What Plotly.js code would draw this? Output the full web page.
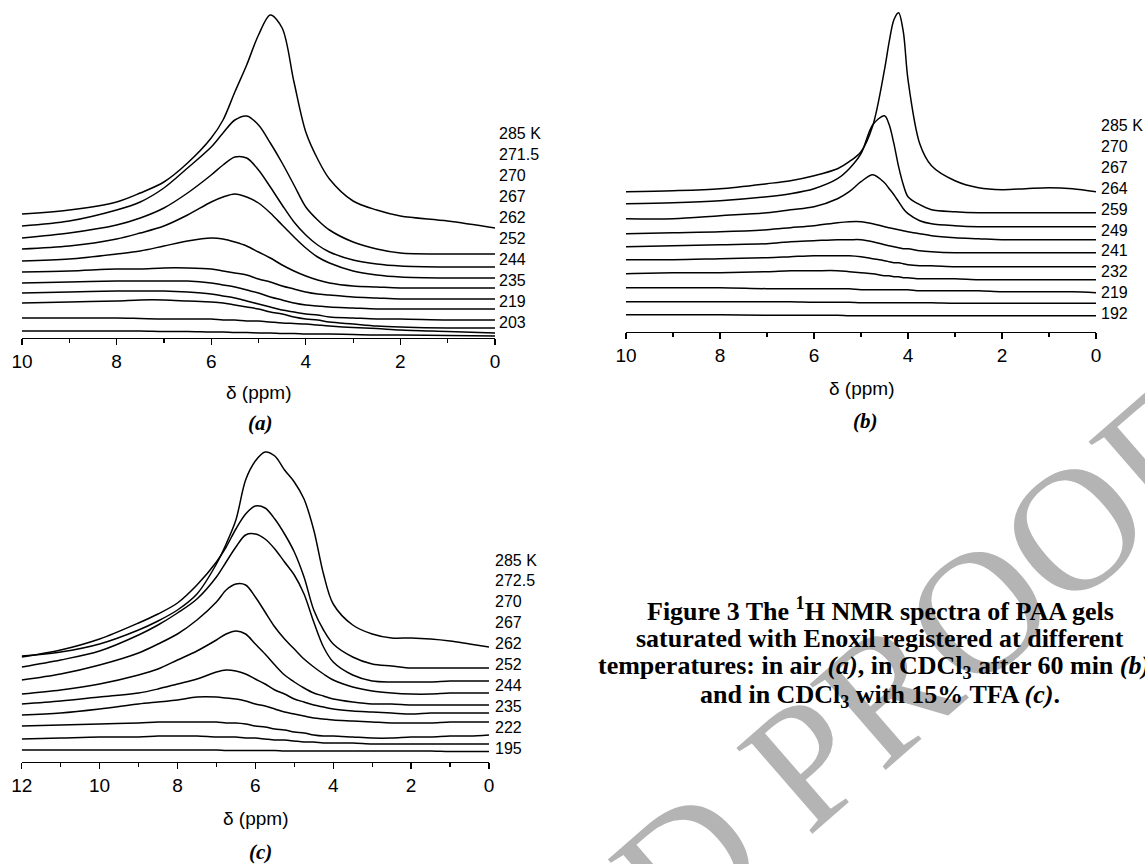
<!DOCTYPE html>
<html>
<head>
<meta charset="utf-8">
<script src="https://cdn.plot.ly/plotly-3.0.1.min.js"></script>
<style>
  html, body { margin: 0; padding: 0; background: #fff; }
  #chart { width: 1145px; height: 864px; }
</style>
</head>
<body>
<div id="chart"></div>
<script>
// ---------- DATA (intensity in arbitrary stacked units) ----------
// Panel (a): in air
const ppmA = [10, 9, 8, 7.5, 7, 6.5, 6, 5.75, 5.5, 5.25, 5, 4.75, 4.5, 4.25, 4, 3.75, 3.5, 3, 2.5, 2, 1, 0];
const tempsA = ["285 K", "271.5", "270", "267", "262", "252", "244", "235", "219", "203"];
const spectraA = [
  [124, 128, 136, 145, 156, 175, 200, 218, 246, 273, 303, 323, 310, 256, 206, 179, 159, 137, 128, 122, 117, 110],
  [112, 117, 128, 136, 150, 170, 191, 205, 218, 222, 213, 195, 175, 153, 131, 118, 108, 96, 89, 85, 84, 84],
  [100, 105, 113, 120, 130, 145, 163, 173, 181, 180, 168, 151, 133, 116, 103, 93, 86, 78, 74, 72, 71, 71],
  [89, 92, 99, 105, 112, 123, 136, 141, 144, 141, 135, 125, 113, 101, 90, 81, 75, 67, 63, 61, 60, 60],
  [77, 79, 84, 87, 92, 97, 100, 99, 96, 92, 86, 80, 73, 67, 62, 58, 55, 52, 51, 50, 50, 50],
  [66, 67, 69, 69, 70, 70, 69, 67, 65, 63, 59, 56, 52, 49, 46, 44, 43, 41, 40, 39, 39, 39],
  [55, 56, 57, 57, 57, 57, 55, 53, 51, 48, 45, 41, 38, 35, 33, 32, 31, 30, 29, 29, 29, 29],
  [45, 46, 47, 47, 47, 46, 44, 42, 40, 37, 34, 31, 28, 26, 24, 23, 21, 20, 19, 19, 18, 18],
  [35, 36, 37, 38, 38, 37, 36, 35, 33, 31, 29, 26, 24, 21, 19, 18, 16, 14, 12, 11, 10, 10],
  [20, 20, 20, 19.5, 19, 19, 19, 18, 18, 17, 17, 16, 15, 14.5, 14, 13, 12, 10.5, 9.5, 8, 6.5, 5],
  [7, 7, 7, 7, 6.5, 6.5, 6, 6, 5.5, 5.5, 5, 5, 4.5, 4.5, 4, 4, 4, 3.5, 3, 3, 2.5, 2]
];

// Panel (b): in CDCl3 after 60 min
const ppmB = [10, 9, 8, 7, 6.5, 6, 5.5, 5.25, 5, 4.75, 4.5, 4.4, 4.3, 4.2, 4.1, 4, 3.75, 3.5, 3, 2.5, 2, 1.5, 1, 0.5, 0];
const tempsB = ["285 K", "270", "267", "264", "259", "249", "241", "232", "219", "192"];
const spectraB = [
  [140, 141, 143, 148, 151, 156, 163, 170, 180, 206, 262, 290, 312, 319, 300, 252, 188, 166, 151, 144, 142, 143, 144, 143, 140],
  [128, 129, 131, 135, 138, 143, 153, 163, 178, 207, 216, 207, 188, 165, 147, 135, 127, 122, 120, 119, 119, 119, 119, 119, 119],
  [113, 113, 116, 119, 122, 125, 133, 140, 150, 157, 149, 143, 137, 130, 123, 118, 111, 108, 106, 105, 105, 105, 105, 105, 105],
  [98, 99, 100, 102, 104, 106, 109, 110, 110, 108, 105, 104, 103, 102, 101, 100, 98, 96, 94, 93, 92, 92, 92, 92, 92],
  [85, 86, 87, 88, 90, 91, 92, 92, 92, 90, 87, 86, 85, 84, 83, 83, 81, 80, 79, 79, 79, 79, 79, 79, 79],
  [72, 72, 73, 74, 75, 76, 76, 76, 75, 73, 71, 70, 69, 69, 68, 67, 66, 66, 65, 65, 65, 65, 65, 65, 65],
  [58, 59, 59, 60, 61, 61, 61, 60, 59, 58, 56, 56, 55, 55, 54, 54, 53, 53, 53, 52, 52, 52, 52, 52, 52],
  [44, 44, 44, 43, 43, 43, 43, 43, 42, 42, 42, 42, 42, 42, 42, 42, 41, 41, 41, 41, 40, 40, 40, 40, 39],
  [30, 30, 30, 30, 30, 29.5, 29.5, 29.5, 29, 29, 29, 29, 29, 29, 29, 29, 29, 29, 28.5, 28.5, 28.5, 28.5, 28.5, 28.5, 28.5],
  [17, 17, 17, 16.5, 16.5, 16.5, 16.5, 16, 16, 16, 16, 16, 16, 16, 16, 16, 16, 16, 16, 16, 16, 16, 16, 16, 16]
];

// Panel (c): in CDCl3 with 15% TFA
const ppmC = [12, 11, 10, 9, 8.5, 8, 7.5, 7, 6.75, 6.5, 6.25, 6, 5.75, 5.5, 5.25, 5, 4.75, 4.5, 4.25, 4, 3.5, 3, 2.5, 2, 1.5, 1, 0.5, 0];
const tempsC = ["285 K", "272.5", "270", "267", "262", "252", "244", "235", "222", "195"];
const spectraC = [
  [106, 110, 118, 132, 141, 152, 168, 198, 218, 242, 282, 301, 310, 306, 292, 280, 263, 232, 188, 158, 137, 128, 124, 124, 123, 121, 118, 115],
  [105, 112, 123, 139, 148, 159, 177, 200, 215, 233, 248, 256, 254, 243, 228, 210, 185, 152, 132, 118, 105, 98, 96, 94, 94, 94, 94, 94],
  [95, 102, 111, 127, 137, 149, 163, 185, 200, 215, 227, 228, 223, 213, 200, 187, 168, 140, 115, 100, 87, 81, 80, 80, 80, 81, 81, 81],
  [82, 88, 97, 109, 118, 128, 142, 160, 172, 178, 177, 165, 150, 135, 123, 113, 103, 95, 88, 82, 75, 71, 69, 68, 68, 69, 69, 69],
  [68, 72, 78, 87, 93, 102, 111, 122, 128, 131, 128, 118, 108, 97, 87, 80, 74, 69, 66, 63, 60, 58, 58, 57, 57, 57, 57, 57],
  [58, 61, 65, 69, 73, 78, 83, 90, 92, 91, 88, 83, 78, 72, 68, 63, 60, 57, 55, 53, 51, 50, 49, 48, 49, 49, 49, 49],
  [47, 49, 53, 58, 60, 62, 65, 65, 64, 63, 61, 58, 56, 53, 50, 48, 46, 44, 43, 42, 41, 40, 39, 39, 39, 40, 40, 40],
  [36, 37, 38, 39, 40, 40, 40, 40, 39, 39, 38, 36, 35, 33, 32, 30, 29, 27, 26, 26, 25, 24, 24, 25, 25, 26, 26, 27],
  [23, 24, 25, 25, 26, 26, 26, 25, 25, 25, 24, 24, 23, 22, 22, 21, 20, 20, 19, 19, 19, 18, 18, 18, 18, 18, 18, 18],
  [12, 12, 12, 12, 12, 12, 12, 12, 11.5, 11.5, 11.5, 11.5, 11.5, 11.5, 11, 11, 11, 11, 11, 11, 11, 11, 11, 11, 11, 10.5, 10.5, 10.5]
];

const captionLines = [
  "<b>Figure 3 The <sup>1</sup>H NMR spectra of PAA gels</b>",
  "<b>saturated with Enoxil registered at different</b>",
  "<b>temperatures: in air <i>(a)</i>, in CDCl<sub>3</sub> after 60 min <i>(b)</i>,</b>",
  "<b>and in CDCl<sub>3</sub> with 15% TFA <i>(c)</i>.</b>"
];
const axisTitle = "δ (ppm)";
const panelTags = ["(a)", "(b)", "(c)"];
const watermark = "UNCORRECTED PROOF";

// ---------- LAYOUT HELPERS ----------
const W = 1145, H = 864;
const px = v => v / W;
const py = v => 1 - v / H;
const SANS = "Liberation Sans, Arial, Helvetica, sans-serif";
const SERIF = "Liberation Serif, Times New Roman, serif";

const panels = [
  { ppm: ppmA, spectra: spectraA, temps: tempsA, xa: "x",  ya: "y",  x0: 22,  x1: 495,  axisY: 338,   labelX: 497,  labelY0: 134,   titleY: 392, tagX: 260, tagY: 423 },
  { ppm: ppmB, spectra: spectraB, temps: tempsB, xa: "x2", ya: "y2", x0: 626, x1: 1096, axisY: 331.7, labelX: 1099, labelY0: 125.5, titleY: 388, tagX: 865, tagY: 421 },
  { ppm: ppmC, spectra: spectraC, temps: tempsC, xa: "x3", ya: "y3", x0: 21.7, x1: 489, axisY: 762,  labelX: 493,  labelY0: 560,   titleY: 818, tagX: 260, tagY: 852 }
];
const labelStep = 20.9;
const yspan = 330;

const traces = [];
panels.forEach(p => {
  p.spectra.forEach(s => {
    traces.push({
      type: "scatter", mode: "lines",
      x: p.ppm, y: s,
      xaxis: p.xa, yaxis: p.ya,
      line: { color: "#000", width: 1.5, shape: "spline", smoothing: 0.9 },
      hoverinfo: "skip", showlegend: false
    });
  });
});

function xAxis(p, range, yname) {
  return {
    domain: [px(p.x0), px(p.x1)],
    anchor: yname,
    range: range,
    showgrid: false, zeroline: false,
    showline: true, linecolor: "#000", linewidth: 1.3,
    ticks: "outside", ticklen: 6, tickwidth: 1.3, tickcolor: "#000",
    tick0: 0, dtick: 2,
    minor: { ticks: "outside", ticklen: 3.5, tickwidth: 1.2, tickcolor: "#000", dtick: 1, showgrid: false },
    tickfont: { family: SANS, size: 19, color: "#000" },
    fixedrange: true
  };
}
function yAxis(p) {
  return {
    domain: [py(p.axisY), py(p.axisY - yspan)],
    range: [0, yspan],
    visible: false, fixedrange: true
  };
}

const annotations = [];
// watermark first (underneath everything else)
annotations.push({
  xref: "paper", yref: "paper", x: px(477), y: py(1047),
  xanchor: "center", yanchor: "middle",
  text: watermark, showarrow: false, textangle: -41,
  font: { family: SERIF, size: 175, color: "#b4b4b4" }
});
panels.forEach((p, i) => {
  p.temps.forEach((t, k) => {
    annotations.push({
      xref: "paper", yref: "paper",
      x: px(p.labelX), y: py(p.labelY0 + k * labelStep),
      xanchor: "left", yanchor: "middle",
      text: t, showarrow: false,
      font: { family: SANS, size: 16, color: "#000" }
    });
  });
  annotations.push({
    xref: "paper", yref: "paper",
    x: px((p.x0 + p.x1) / 2), y: py(p.titleY),
    xanchor: "center", yanchor: "middle",
    text: axisTitle, showarrow: false,
    font: { family: SANS, size: 19, color: "#000" }
  });
  annotations.push({
    xref: "paper", yref: "paper",
    x: px(p.tagX), y: py(p.tagY),
    xanchor: "center", yanchor: "middle",
    text: "<b><i>" + panelTags[i] + "</i></b>", showarrow: false,
    font: { family: SERIF, size: 21, color: "#000" }
  });
});
const capY = [609, 638, 667, 696];
captionLines.forEach((c, k) => {
  const isLong = (k === 2);
  annotations.push({
    xref: "paper", yref: "paper",
    x: isLong ? px(596) : px(880), y: py(capY[k]),
    xanchor: isLong ? "left" : "center", yanchor: "middle",
    text: c, showarrow: false,
    font: { family: SERIF, size: 26, color: "#000" }
  });
});

const layout = {
  width: W, height: H, autosize: false,
  margin: { l: 0, r: 0, t: 0, b: 0, pad: 0 },
  paper_bgcolor: "#fff", plot_bgcolor: "rgba(0,0,0,0)",
  showlegend: false,
  xaxis:  xAxis(panels[0], [10, 0], "y"),
  yaxis:  yAxis(panels[0]),
  xaxis2: xAxis(panels[1], [10, 0], "y2"),
  yaxis2: yAxis(panels[1]),
  xaxis3: xAxis(panels[2], [12, 0], "y3"),
  yaxis3: yAxis(panels[2]),
  annotations: annotations
};

Plotly.newPlot("chart", traces, layout, { staticPlot: true, displayModeBar: false });
</script>
</body>
</html>
